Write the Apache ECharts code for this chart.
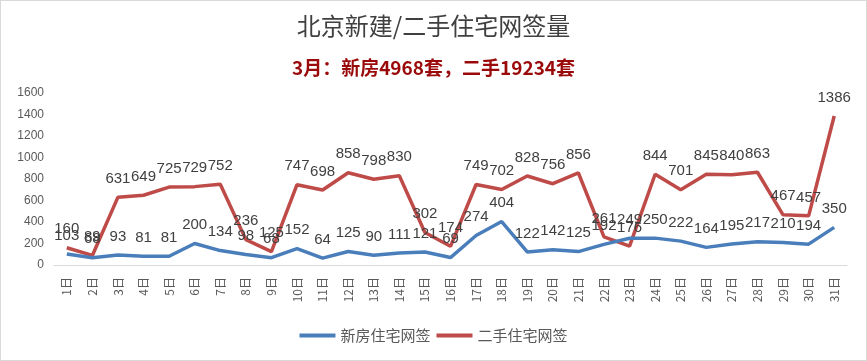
<!DOCTYPE html>
<html><head><meta charset="utf-8">
<script src="https://cdn.jsdelivr.net/npm/echarts@6/dist/echarts.min.js"></script>
<style>html,body{margin:0;padding:0;background:#fff}#c{width:867px;height:361px;box-sizing:border-box;border:1px solid #d9d9d9}</style>
</head><body><div id="c"></div>
<script>
const categories = ['1日','2日','3日','4日','5日','6日','7日','8日','9日','10日','11日','12日','13日','14日','15日','16日','17日','18日','19日','20日','21日','22日','23日','24日','25日','26日','27日','28日','29日','30日','31日'];
const newHomes = [103,68,93,81,81,200,134,98,68,152,64,125,90,111,121,69,274,404,122,142,125,192,249,250,222,164,195,217,210,194,350];
const resale = [160,89,631,649,725,729,752,236,125,747,698,858,798,830,302,174,749,702,828,756,856,261,176,844,701,845,840,863,467,457,1386];
const seriesNames = ['新房住宅网签','二手住宅网签'];
const titleText = '北京新建/二手住宅网签量';
const subText = '3月：新房4968套，二手19234套';

const chart = echarts.init(document.getElementById('c'), null, {renderer:'canvas'});
const lbl = {show:true, position:'top', distance:11, fontSize:15, color:'#404040', fontFamily:'Liberation Sans, Arial'};
chart.setOption({
  animation:false,
  title:[
    {text:titleText, left:'center', top:8, textStyle:{fontFamily:'Noto Sans CJK SC', fontSize:24, fontWeight:'normal', color:'#404040'}},
    {text:subText, left:'center', top:52, textStyle:{fontFamily:'Noto Sans CJK SC', fontSize:19, fontWeight:'bold', color:'#9b0a0a'}}
  ],
  legend:{bottom:12, left:'center', itemWidth:36, itemHeight:4, itemGap:6, icon:'rect',
    textStyle:{fontFamily:'Noto Sans CJK SC', fontSize:15, color:'#595959'},
    data:seriesNames},
  grid:{left:53, right:19, top:92, bottom:95},
  xAxis:{type:'category', data:categories, boundaryGap:true,
    axisLine:{lineStyle:{color:'#d9d9d9', width:1}}, axisTick:{show:false},
    axisLabel:{rotate:90, interval:0, margin:12, fontSize:12, color:'#595959', fontFamily:'Noto Sans CJK SC'}},
  yAxis:{type:'value', min:0, max:1600, interval:200,
    splitLine:{show:false}, axisLine:{show:false}, axisTick:{show:false},
    axisLabel:{fontSize:12, color:'#595959', margin:10, fontFamily:'Liberation Sans, Arial', formatter:v=>String(v)}},
  series:[
    {name:seriesNames[0], type:'line', data:newHomes, symbol:'circle', symbolSize:0.01, showSymbol:true, lineStyle:{width:3.5, color:'#4a7ebb'}, itemStyle:{color:'#4a7ebb'}, label:lbl, z:3},
    {name:seriesNames[1], type:'line', data:resale, symbol:'circle', symbolSize:0.01, showSymbol:true, lineStyle:{width:3.5, color:'#be4b48'}, itemStyle:{color:'#be4b48'}, label:lbl, z:2}
  ]
});
</script></body></html>
